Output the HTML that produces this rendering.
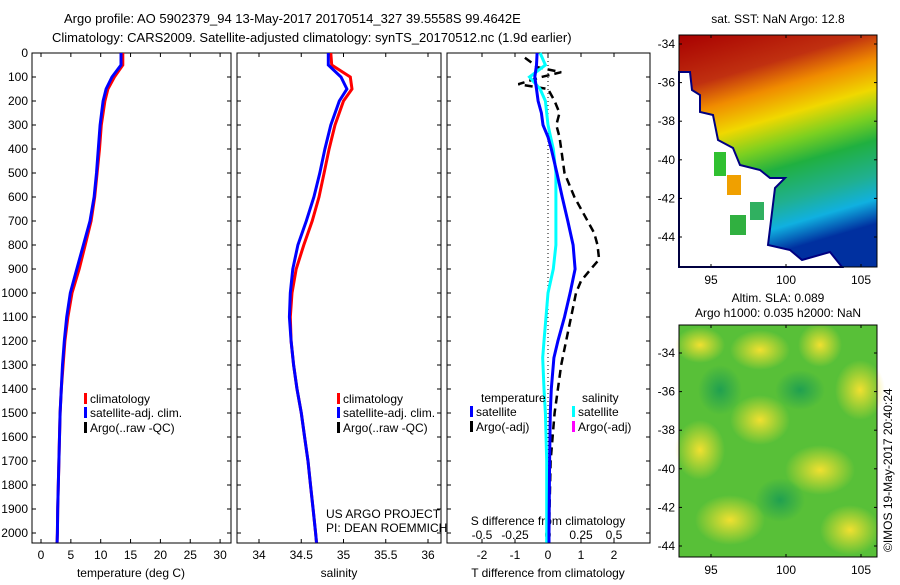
<!DOCTYPE html>
<html><head><meta charset="utf-8"><style>
body{margin:0;background:#fff;}
svg text{font-family:"Liberation Sans",sans-serif;font-size:12px;fill:#000;}
</style></head><body>
<svg id="fig" width="900" height="580" xmlns="http://www.w3.org/2000/svg">
<defs>
<linearGradient id="sstg" x1="0" y1="0" x2="0.25" y2="1">
<stop offset="0" stop-color="#a80000"/><stop offset="0.22" stop-color="#c03010"/>
<stop offset="0.33" stop-color="#f08c00"/><stop offset="0.45" stop-color="#f0d800"/>
<stop offset="0.56" stop-color="#7cd020"/><stop offset="0.66" stop-color="#20b040"/>
<stop offset="0.8" stop-color="#20b090"/><stop offset="0.9" stop-color="#10b0e0"/>
<stop offset="1" stop-color="#0030a0"/></linearGradient>
<radialGradient id="yb"><stop offset="0" stop-color="#f0e030"/><stop offset="1" stop-color="#f0e030" stop-opacity="0"/></radialGradient>
<radialGradient id="gb"><stop offset="0" stop-color="#20a050"/><stop offset="1" stop-color="#20a050" stop-opacity="0"/></radialGradient>
</defs>
<text x="64" y="23" style="font-size:13px">Argo profile: AO 5902379_94 13-May-2017 20170514_327 39.5558S 99.4642E</text>
<text x="52" y="42" style="font-size:13px">Climatology: CARS2009. Satellite-adjusted climatology: synTS_20170512.nc (1.9d earlier)</text>
<g id="p1"></g>
<g id="p2"></g>
<g id="p3"></g>
<g id="m1">
<rect x="679" y="35" width="198" height="232" fill="url(#sstg)"/>
<polygon points="679,72 690,72 692,90 700,95 700,112 713,115 718,140 733,148 740,165 760,170 770,178 785,178 775,188 768,245 790,250 802,260 830,252 842,267 679,267" fill="#fff" stroke="#000080" stroke-width="2"/>
<rect x="714" y="152" width="12" height="24" fill="#30c030"/>
<rect x="727" y="175" width="14" height="20" fill="#f0a000"/>
<rect x="730" y="215" width="16" height="20" fill="#30b040"/>
<rect x="750" y="202" width="14" height="18" fill="#30b060"/>
<rect x="679" y="35" width="198" height="232" fill="none" stroke="#000"/>
<text x="778" y="23" text-anchor="middle">sat. SST: NaN Argo: 12.8</text>
</g>
<g id="m2">
<rect x="679" y="325" width="198" height="232" fill="#58c038"/>
<ellipse cx="700" cy="345" rx="25" ry="18" fill="url(#yb)"/>
<ellipse cx="760" cy="350" rx="30" ry="20" fill="url(#yb)"/>
<ellipse cx="820" cy="345" rx="22" ry="22" fill="url(#yb)"/>
<ellipse cx="860" cy="390" rx="25" ry="30" fill="url(#yb)"/>
<ellipse cx="760" cy="420" rx="30" ry="25" fill="url(#yb)"/>
<ellipse cx="700" cy="450" rx="25" ry="30" fill="url(#yb)"/>
<ellipse cx="820" cy="470" rx="35" ry="25" fill="url(#yb)"/>
<ellipse cx="730" cy="520" rx="35" ry="25" fill="url(#yb)"/>
<ellipse cx="850" cy="530" rx="30" ry="25" fill="url(#yb)"/>
<ellipse cx="800" cy="390" rx="25" ry="20" fill="url(#gb)"/>
<ellipse cx="720" cy="390" rx="22" ry="25" fill="url(#gb)"/>
<ellipse cx="780" cy="500" rx="25" ry="22" fill="url(#gb)"/>
<rect x="679" y="325" width="198" height="232" fill="none" stroke="#000"/>
<text x="778" y="302" text-anchor="middle">Altim. SLA: 0.089</text>
<text x="778" y="317" text-anchor="middle">Argo h1000: 0.035 h2000: NaN</text>
</g>
<text transform="translate(892,552) rotate(-90)">©IMOS 19-May-2017 20:40:24</text>
</svg>
<script>
const depthTicks=[0,100,200,300,400,500,600,700,800,900,1000,1100,1200,1300,1400,1500,1600,1700,1800,1900,2000];
const depths=[0,50,100,150,200,300,400,500,600,700,800,900,1000,1100,1200,1300,1400,1500,1600,1700,1800,1900,2000,2040];
const tempClim=[13.7,13.7,12.3,11.2,10.7,10.1,9.8,9.4,9.0,8.4,7.4,6.4,5.2,4.5,4.0,3.7,3.4,3.2,3.1,3.0,2.9,2.8,2.75,2.7];
const tempSat=[13.4,13.4,11.9,10.9,10.4,9.9,9.6,9.3,8.9,8.2,7.1,6.0,4.9,4.3,3.9,3.6,3.4,3.2,3.1,3.0,2.9,2.8,2.75,2.7];
const salClim=[34.85,34.86,35.08,35.1,35.0,34.9,34.83,34.77,34.71,34.63,34.53,34.44,34.39,34.37,34.38,34.41,34.45,34.5,34.54,34.58,34.61,34.64,34.67,34.68];
const salSat=[34.82,34.82,34.97,35.04,34.95,34.85,34.78,34.72,34.65,34.56,34.46,34.4,34.37,34.36,34.38,34.41,34.45,34.5,34.54,34.58,34.61,34.64,34.67,34.68];
const tDiffDepths=[0,50,100,150,200,250,300,350,400,500,600,700,800,900,1000,1100,1200,1270,1400,1500,1700,2000,2040];
const tDiffSat=[-0.33,-0.35,-0.4,-0.35,-0.3,-0.2,-0.15,0,0.1,0.27,0.43,0.6,0.76,0.82,0.67,0.5,0.3,0.18,0.1,0.07,0.05,0.03,0.03];
const sDiffSat=[-0.06,-0.02,-0.14,-0.06,-0.02,-0.01,0,0.02,0.04,0.06,0.06,0.06,0.06,0.04,0,-0.015,-0.03,-0.04,-0.03,-0.02,-0.01,-0.01,-0.01];
const argoDepths=[20,60,80,100,130,150,200,250,300,350,400,500,600,700,750,800,860,900,950,1000,1100,1200,1300,1400,1500,1700,2000];
const argoTDiff=[-0.7,-0.3,0.4,-0.2,-0.9,0.0,0.2,0.35,0.25,0.35,0.4,0.5,0.8,1.2,1.4,1.5,1.55,1.3,1.0,0.85,0.7,0.55,0.4,0.3,0.2,0.08,0.03];
const tTicks=[0,5,10,15,20,25,30];
const sTicks=[34,34.5,35,35.5,36];
const sTickLabels=["34","34.5","35","35.5","36"];
const dTTicks=[-2,-1,0,1,2];
const dSTicks=[-0.5,-0.25,0,0.25,0.5];
const dSTickLabels=["-0.5","-0.25","0","0.25","0.5"];

const NS='http://www.w3.org/2000/svg';
const Y0=53,Y1=543;
const yD=d=>53+d*0.24;
function mk(parent,tag,attrs){const e=document.createElementNS(NS,tag);for(const k in attrs)e.setAttribute(k,attrs[k]);parent.appendChild(e);return e;}
function txt(parent,x,y,s,anchor){const t=mk(parent,'text',{x:x,y:y,'text-anchor':anchor||'start'});t.textContent=s;return t;}
function frame(g,x0,x1){
  const r=mk(g,'rect',{x:x0,y:Y0,width:x1-x0,height:Y1-Y0,fill:'none',stroke:'#000'});
  
  
  depthTicks.forEach(d=>{mk(g,'line',{x1:x0,x2:x0+4,y1:yD(d),y2:yD(d),stroke:'#000'});mk(g,'line',{x1:x1,x2:x1-4,y1:yD(d),y2:yD(d),stroke:'#000'});});
}
function line(g,xs,ds,xf,color,w,dash,name){
  const pts=xs.map((v,i)=>xf(v).toFixed(1)+','+yD(ds[i]).toFixed(1)).join(' ');
  const p=mk(g,'polyline',{points:pts,fill:'none',stroke:color,'stroke-width':w});
  if(dash)p.setAttribute('stroke-dasharray',dash);
  
  
}
function legItem(g,x,y,color,label){
  mk(g,'rect',{x:x,y:y-10,width:3,height:11,fill:color});
  const t=txt(g,x+6,y,label);
  
  
}
const p1=document.getElementById('p1');
const xT=v=>41+v*5.97;
frame(p1,32,231);
depthTicks.forEach(d=>{const t=txt(p1,28,yD(d)+4,String(d),'end');});
tTicks.forEach(v=>{mk(p1,'line',{x1:xT(v),x2:xT(v),y1:Y1,y2:Y1-4,stroke:'#000'});mk(p1,'line',{x1:xT(v),x2:xT(v),y1:Y0,y2:Y0+4,stroke:'#000'});txt(p1,xT(v),559,String(v),'middle');});
{const t=txt(p1,131,577,'temperature (deg C)','middle');}
line(p1,tempClim,depths,xT,'#f00',3,null,'temp-climatology-line');
line(p1,tempSat,depths,xT,'#00f',3,null,'temp-satellite-line');
legItem(p1,84,403,'#f00','climatology');legItem(p1,84,417,'#00f','satellite-adj. clim.');legItem(p1,84,432,'#000','Argo(..raw -QC)');
const p2=document.getElementById('p2');
const xS=v=>259+(v-34)*84.5;
frame(p2,237,441);
sTicks.forEach((v,i)=>{mk(p2,'line',{x1:xS(v),x2:xS(v),y1:Y1,y2:Y1-4,stroke:'#000'});mk(p2,'line',{x1:xS(v),x2:xS(v),y1:Y0,y2:Y0+4,stroke:'#000'});txt(p2,xS(v),559,sTickLabels[i],'middle');});
{const t=txt(p2,339,577,'salinity','middle');}
line(p2,salClim,depths,xS,'#f00',3,null,'sal-climatology-line');
line(p2,salSat,depths,xS,'#00f',3,null,'sal-satellite-line');
legItem(p2,337,403,'#f00','climatology');legItem(p2,337,417,'#00f','satellite-adj. clim.');legItem(p2,337,432,'#000','Argo(..raw -QC)');
txt(p2,326,518,'US ARGO PROJECT');txt(p2,326,532,'PI: DEAN ROEMMICH');
const p3=document.getElementById('p3');
const xdT=v=>548+v*33;
const xdS=v=>548+v*132;
frame(p3,447,650);
mk(p3,'line',{x1:548,x2:548,y1:Y0,y2:Y1,stroke:'#000','stroke-dasharray':'1,3'});
dTTicks.forEach(v=>{mk(p3,'line',{x1:xdT(v),x2:xdT(v),y1:Y1,y2:Y1-4,stroke:'#000'});mk(p3,'line',{x1:xdT(v),x2:xdT(v),y1:Y0,y2:Y0+4,stroke:'#000'});txt(p3,xdT(v),559,String(v),'middle');});
dSTicks.forEach((v,i)=>{txt(p3,xdS(v),539,dSTickLabels[i],'middle');});
{const t=txt(p3,548,525,'S difference from climatology','middle');}
{const t=txt(p3,548,577,'T difference from climatology','middle');}
line(p3,argoTDiff,argoDepths,xdT,'#000',2.5,'8,5','argo-t-diff-line');
line(p3,sDiffSat,tDiffDepths,xdS,'#00ffff',3,null,'s-diff-satellite-line');
line(p3,tDiffSat,tDiffDepths,xdT,'#00f',3,null,'t-diff-satellite-line');
txt(p3,481,402,'temperature');txt(p3,582,402,'salinity');
legItem(p3,470,416,'#00f','satellite');legItem(p3,470,431,'#000','Argo(-adj)');
legItem(p3,572,416,'#00ffff','satellite');legItem(p3,572,431,'#ff00ff','Argo(-adj)');
function mapAxes(gid,top,bot,latTop){
  const g=document.getElementById(gid);
  const lonX=l=>711+(l-95)*15;
  [95,100,105].forEach(l=>{mk(g,'line',{x1:lonX(l),x2:lonX(l),y1:bot,y2:bot-3,stroke:'#000'});mk(g,'line',{x1:lonX(l),x2:lonX(l),y1:top,y2:top+3,stroke:'#000'});txt(g,lonX(l),bot+17,String(l),'middle');});
  [-34,-36,-38,-40,-42,-44].forEach(la=>{const y=latTop+(-34-la)*19.3;mk(g,'line',{x1:679,x2:682,y1:y,y2:y,stroke:'#000'});mk(g,'line',{x1:877,x2:874,y1:y,y2:y,stroke:'#000'});txt(g,675,y+4,String(la),'end');});
}
mapAxes('m1',35,267,44);
mapAxes('m2',325,557,353);
</script>
</body></html>
